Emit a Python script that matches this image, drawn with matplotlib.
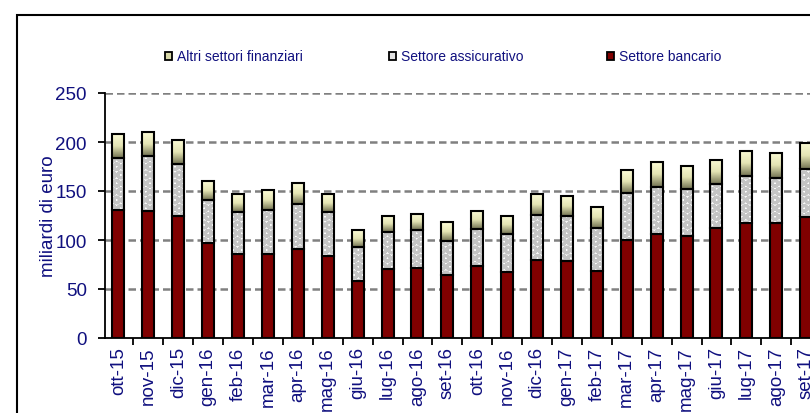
import numpy as np
import matplotlib
matplotlib.use('Agg')
import matplotlib.pyplot as plt
from matplotlib.patches import Rectangle
from matplotlib.colors import LinearSegmentedColormap

plt.rcParams['font.family'] = ['Liberation Sans', 'DejaVu Sans']
plt.rcParams['hatch.linewidth'] = 2.2

# dati (miliardi di euro)
mesi = ['ott-15','nov-15','dic-15','gen-16','feb-16','mar-16','apr-16','mag-16',
        'giu-16','lug-16','ago-16','set-16','ott-16','nov-16','dic-16','gen-17',
        'feb-17','mar-17','apr-17','mag-17','giu-17','lug-17','ago-17','set-17']
bancario = [131,130,125,97,86,86,91,84,58,70,71,64,73,67,80,79,68,100,106,104,112,117,117,123]
assicurativo = [53,56,53,44,43,45,46,45,35,38,39,35,38,39,46,46,44,48,48,48,45,48,46,49]
altri = [24,24,24,19,18,20,21,18,17,17,17,19,19,19,21,20,22,23,26,24,25,26,26,27]

blu = '#10107f'
W, H = 810, 414
fig = plt.figure(figsize=(W/100, H/100), dpi=100)

# cornice esterna (tagliata a destra e in basso)
fig.patches.append(Rectangle((17/W, -0.2), 2.0, (H-15.5)/H + 0.2, transform=fig.transFigure,
                             fill=False, edgecolor='black', linewidth=1.5, zorder=0))

ax = fig.add_axes([105/W, 75/H, 24*29.9/W, 245/H])
x = np.arange(len(mesi))
bw = 0.4
b1 = np.array(bancario)
b2 = b1 + np.array(assicurativo)
b3 = b2 + np.array(altri)

ax.bar(x, bancario, bw, color='#800000', edgecolor='black', linewidth=1.5, zorder=3)
ax.bar(x, assicurativo, bw, bottom=b1, color='white', edgecolor='#c4c4c4', hatch='OO',
       linewidth=0, zorder=3)
ax.bar(x, assicurativo, bw, bottom=b1, fill=False, edgecolor='black', linewidth=1.5, zorder=4)

cm = LinearSegmentedColormap.from_list('alt', ['#fbfbd6', '#e4e4b4', '#727252'])
grad = np.linspace(0, 1, 64).reshape(-1, 1)
for i in range(len(mesi)):
    ax.imshow(grad, extent=[x[i]-bw/2, x[i]+bw/2, b2[i], b3[i]], aspect='auto',
              cmap=cm, zorder=3, interpolation='bilinear')
ax.bar(x, altri, bw, bottom=b2, fill=False, edgecolor='black', linewidth=1.5, zorder=4)

ax.set_xlim(-0.45, 23.55)
ax.set_ylim(0, 250)
ax.set_yticks(range(0, 251, 50))
for v in range(50, 251, 50):
    ax.axhline(v, color='#808080', linestyle=(0, (3, 1.6)), linewidth=1.8, zorder=1)

ax.set_xticks(x)
ax.set_xticklabels(mesi, rotation=90, fontsize=13.5, color=blu)
ax.set_xticks(x[:-1] + 0.5, minor=True)
ax.tick_params(axis='x', which='major', length=0, pad=6)
ax.tick_params(axis='x', which='minor', length=5, width=1.3, direction='out')
ax.tick_params(axis='y', length=5, width=1.3, direction='out', pad=8, labelsize=13.5, labelcolor=blu)
ax.set_ylabel('miliardi di euro', fontsize=13.5, color=blu, labelpad=-1)

for s in ['top', 'right']:
    ax.spines[s].set_visible(False)
for s in ['left', 'bottom']:
    ax.spines[s].set_linewidth(1.3)
ax.spines['bottom'].set_zorder(5)

# legenda
leg = [('Altri settori finanziari', '#d8d8a8'), ('Settore assicurativo', '#e0e0e0'),
       ('Settore bancario', '#800000')]
lx = [165, 389, 607]
for (txt, c), px in zip(leg, lx):
    fig.patches.append(Rectangle((px/W, (H-61)/H), 7/W, 8/H, transform=fig.transFigure,
                                 facecolor=c, edgecolor='black', linewidth=1.3))
    fig.text((px+12)/W, (H-57)/H, txt, fontsize=10, color=blu, va='center', ha='left')

fig.savefig('out.png', dpi=100)
